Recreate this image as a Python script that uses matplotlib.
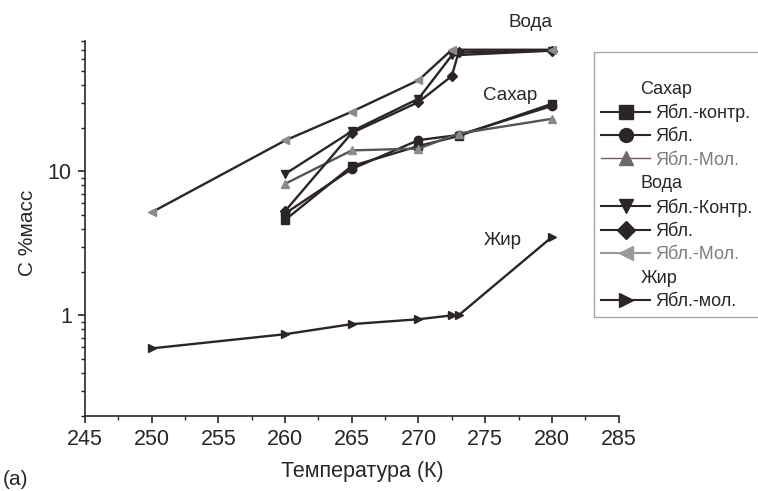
import matplotlib
matplotlib.use("Agg")
import matplotlib.pyplot as plt
from matplotlib.lines import Line2D
from matplotlib.ticker import LogLocator, FixedLocator, NullFormatter, MultipleLocator

plt.rcParams['font.family'] = ['Liberation Sans', 'DejaVu Sans']

# ---- data ----
sugar_ctrl_T = [260, 265, 270, 273, 280]
sugar_ctrl = [4.6, 10.9, 15.0, 17.6, 29.5]
sugar_apple_T = [260, 265, 270, 273, 280]
sugar_apple = [5.1, 10.4, 16.5, 17.9, 28.5]
sugar_mol_T = [260, 265, 270, 273, 280]
sugar_mol = [8.2, 14.0, 14.4, 18.3, 23.2]

water_ctrl_T = [260, 265, 270, 272.5, 280]
water_ctrl = [9.6, 19.0, 32.0, 64.0, 69.0]
water_apple_T = [260, 265, 270, 272.5, 273, 280]
water_apple = [5.3, 18.5, 30.3, 46.0, 67.0, 69.0]
water_mol_T = [250, 260, 265, 270, 272.5, 280]
water_mol = [5.2, 16.4, 26.0, 43.0, 70.0, 70.0]

fat_mol_T = [250, 260, 265, 270, 272.5, 273, 280]
fat_mol = [0.59, 0.74, 0.87, 0.94, 1.0, 1.0, 3.5]

x_ticks = [245, 250, 255, 260, 265, 270, 275, 280, 285]
y_ticks = [1, 10]
y_tick_labels = ['1', '10']

DARK = '#2b2528'
GRAY = '#8a8a8a'
GRAYLINE = '#555555'

fig = plt.figure(figsize=(7.58, 4.91), dpi=100)
ax = fig.add_axes([0.1121, 0.1527, 0.7040, 0.7630])

ms = 6
lw = 1.7
series = [
    (sugar_ctrl_T, sugar_ctrl, 's', DARK, DARK, 'Ябл.-контр.'),
    (sugar_apple_T, sugar_apple, 'o', DARK, DARK, 'Ябл.'),
    (sugar_mol_T, sugar_mol, '^', GRAYLINE, GRAY, 'Ябл.-Мол.'),
    (water_ctrl_T, water_ctrl, 'v', DARK, DARK, 'Ябл.-Контр.'),
    (water_apple_T, water_apple, 'D', DARK, DARK, 'Ябл.'),
    (water_mol_T, water_mol, '<', DARK, GRAY, 'Ябл.-Мол.'),
    (fat_mol_T, fat_mol, '>', DARK, DARK, 'Ябл.-мол.'),
]
for T, v, m, lc, mc, lab in series:
    msz = ms - 1 if m == 'D' else ms
    ax.plot(T, v, marker=m, color=lc, markerfacecolor=mc, markeredgecolor=mc,
            markersize=msz, linewidth=lw, label=lab, clip_on=False)

ax.set_yscale('log')
ax.set_xlim(245, 285)
ax.set_ylim(0.2, 80)
for s in ['top', 'right']:
    ax.spines[s].set_visible(False)
for s in ['left', 'bottom']:
    ax.spines[s].set_linewidth(1.2)
    ax.spines[s].set_color(DARK)

ax.xaxis.set_major_locator(FixedLocator(x_ticks))
ax.xaxis.set_minor_locator(MultipleLocator(2.5))
ax.yaxis.set_major_locator(FixedLocator(y_ticks))
ax.set_yticklabels(y_tick_labels)
ax.yaxis.set_minor_locator(LogLocator(base=10, subs=[2, 3, 4, 5, 6, 7, 8, 9]))
ax.yaxis.set_minor_formatter(NullFormatter())
ax.tick_params(which='major', length=5, width=1.2, color=DARK, labelsize=15.5,
               labelcolor=DARK, pad=4.5, direction='out')
ax.tick_params(which='minor', length=3, width=1.0, color=DARK, direction='out')

ax.set_xlabel('Температура (К)', fontsize=15.5, color=DARK)
ax.xaxis.set_label_coords(0.52, -0.12)
ax.set_ylabel('C %масс', fontsize=15, color=DARK)
ax.yaxis.set_label_coords(-0.09, 0.49)

ax.text(278.4, 108, 'Вода', fontsize=13.5, color=DARK, ha='center', va='center', clip_on=False)
ax.text(276.9, 33.7, 'Сахар', fontsize=13.5, color=DARK, ha='center', va='center')
ax.text(276.3, 3.32, 'Жир', fontsize=13.5, color=DARK, ha='center', va='center')

fig.text(0.004, 0.004, '(а)', fontsize=15, color=DARK, va='bottom', ha='left')

# legend with group headers
def header():
    return Line2D([], [], linestyle='none')

def lh(m, lc, mc, lwid=1.5):
    return Line2D([], [], marker=m, color=lc, markerfacecolor=mc, markeredgecolor=mc,
                  markersize=10 if m != 'D' else 9, linewidth=lwid)

handles = [header(), lh('s', DARK, DARK), lh('o', DARK, DARK), lh('^', '#7a5a5a', '#6a6a6a', 1.0),
           header(), lh('v', DARK, DARK), lh('D', DARK, DARK), lh('<', '#9a9a9a', '#9a9a9a', 1.5),
           header(), lh('>', DARK, DARK)]
labels = ['Сахар', 'Ябл.-контр.', 'Ябл.', 'Ябл.-Мол.',
          'Вода', 'Ябл.-Контр.', 'Ябл.', 'Ябл.-Мол.',
          'Жир', 'Ябл.-мол.']
leg = fig.legend(handles, labels, loc='upper left', bbox_to_anchor=(594 / 758, 1 - 52 / 491),
                 fontsize=13, frameon=True, fancybox=False, edgecolor='#909090',
                 handlelength=2.7, handletextpad=0.3, labelspacing=0.35, borderpad=0.4,
                 borderaxespad=0.0, title=' ', title_fontsize=12)
leg.get_frame().set_linewidth(1.0)
for i, t in enumerate(leg.get_texts()):
    if labels[i] in ('Сахар', 'Вода', 'Жир'):
        t.set_x(-15)
        t.set_color(DARK)
    elif labels[i] == 'Ябл.-Мол.':
        t.set_color('#7d7d7d')
    else:
        t.set_color(DARK)

fig.savefig('out.png', dpi=100)
